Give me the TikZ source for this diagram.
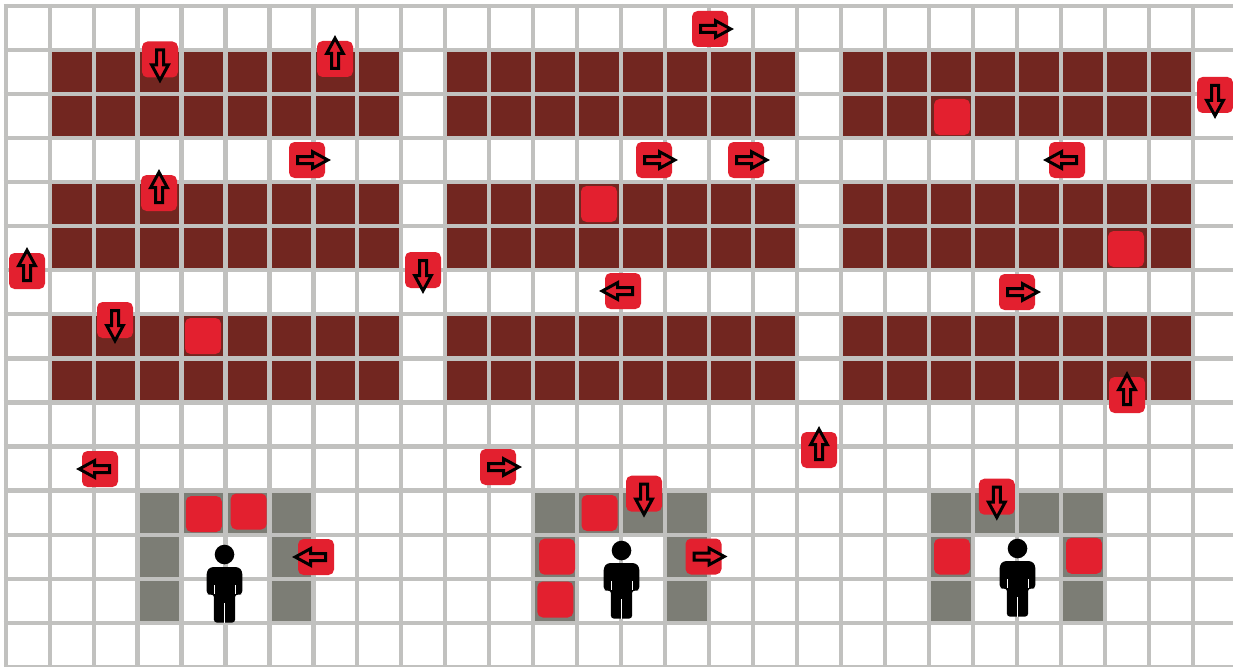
\documentclass[tikz,border=0pt]{standalone}
\definecolor{gridc}{HTML}{C1C1BF}
\definecolor{wine}{HTML}{722620}
\definecolor{stone}{HTML}{7C7D75}
\definecolor{tokenred}{HTML}{E3202F}
\tikzset{
  gridline/.style={draw=gridc,line width=4.2pt},
  winecell/.style={fill=wine},
  stonecell/.style={fill=stone},
  tokenbox/.style={fill=tokenred,rounded corners=5.5pt},
  arrowglyph/.style={draw=black,fill=tokenred,line width=3pt,line join=miter,miter limit=10},
  figure/.style={fill=black},
  figuregap/.style={draw=white,line width=0.6pt}
}
\newcommand{\gx}[1]{5.7+43.96*#1}
\newcommand{\gy}[1]{6+44.05*#1}
\newcommand{\tokenplain}[2]{\fill[tokenbox] (#1-18,#2-18) rectangle (#1+18,#2+18);}
\newcommand{\tokenarrow}[3]{%
  \fill[tokenbox] (#1-18,#2-18) rectangle (#1+18,#2+18);
  \begin{scope}[shift={(#1,#2)},rotate=#3]
    \draw[arrowglyph] (-9.5,-3.5) -- (5.5,-3.5) -- (5.5,-8.3) -- (20.8,0) -- (5.5,8.3) -- (5.5,3.5) -- (-9.5,3.5) -- cycle;
  \end{scope}}
\newcommand{\person}[2]{%
  \begin{scope}[shift={(#1,#2)}]
    \fill[figure] (0,-12.5) circle (9.8);
    \fill[figure,rounded corners=3pt] (-17.8,4) -- (-14,0) -- (14,0) -- (17.8,4) -- (17.8,27) -- (14,28) -- (10.6,27) -- (10.6,55.6) -- (-10.6,55.6) -- (-10.6,27) -- (-14,28) -- (-17.8,27) -- cycle;
    \draw[figuregap] (0,36) -- (0,56);
    \draw[figuregap] (-10.6,18) -- (-10.6,27);
    \draw[figuregap] (10.6,18) -- (10.6,27);
  \end{scope}}
\begin{document}
\begin{tikzpicture}[x=1pt,y=-1pt]
\useasboundingbox (0,0) rectangle (1233,666);
\fill[white] (0,0) rectangle (1233,666);
% wine blocks
\foreach \c in {1,10,19} \foreach \r in {1,4,7}
  \fill[winecell] ({\gx{\c}},{\gy{\r}}) rectangle ({\gx{(\c+8)}},{\gy{(\r+2)}});
% stone enclosures
\foreach \c in {3,12,21} {
  \fill[stonecell] ({\gx{\c}},{\gy{11}}) rectangle ({\gx{(\c+4)}},{\gy{12}});
  \fill[stonecell] ({\gx{\c}},{\gy{11}}) rectangle ({\gx{(\c+1)}},{\gy{14}});
  \fill[stonecell] ({\gx{(\c+3)}},{\gy{11}}) rectangle ({\gx{(\c+4)}},{\gy{14}});
}
% grid
\foreach \k in {0,...,27} \draw[gridline] ({\gx{\k}},{6-2}) -- ({\gx{\k}},666);
\foreach \k in {0,...,15} \draw[gridline] ({3.5},{\gy{\k}}) -- (1233,{\gy{\k}});
% persons
\person{224.5}{567}
\person{621.5}{563}
\person{1017.5}{561}
% plain tokens
\tokenplain{952}{117}
\tokenplain{599}{204}
\tokenplain{1126}{249}
\tokenplain{203}{336}
\tokenplain{203.8}{514}
\tokenplain{248.7}{511.5}
\tokenplain{599.5}{513}
\tokenplain{557}{556.7}
\tokenplain{555.3}{599.5}
\tokenplain{952}{556.5}
\tokenplain{1084}{555.8}
% arrow tokens
\tokenarrow{160}{59.5}{270}
\tokenarrow{335}{59}{90}
\tokenarrow{710}{29}{0}
\tokenarrow{1215}{95}{270}
\tokenarrow{307}{160}{0}
\tokenarrow{654}{160}{0}
\tokenarrow{746}{160}{0}
\tokenarrow{1067}{160}{180}
\tokenarrow{159}{193}{90}
\tokenarrow{27}{271}{90}
\tokenarrow{423}{270}{270}
\tokenarrow{623}{291}{180}
\tokenarrow{1017}{292}{0}
\tokenarrow{115}{320}{270}
\tokenarrow{1127}{395}{90}
\tokenarrow{819}{450}{90}
\tokenarrow{100}{469}{180}
\tokenarrow{498}{467}{0}
\tokenarrow{644}{493.7}{270}
\tokenarrow{996.8}{496.7}{270}
\tokenarrow{316}{557}{180}
\tokenarrow{703.5}{556.5}{0}
\end{tikzpicture}
\end{document}
